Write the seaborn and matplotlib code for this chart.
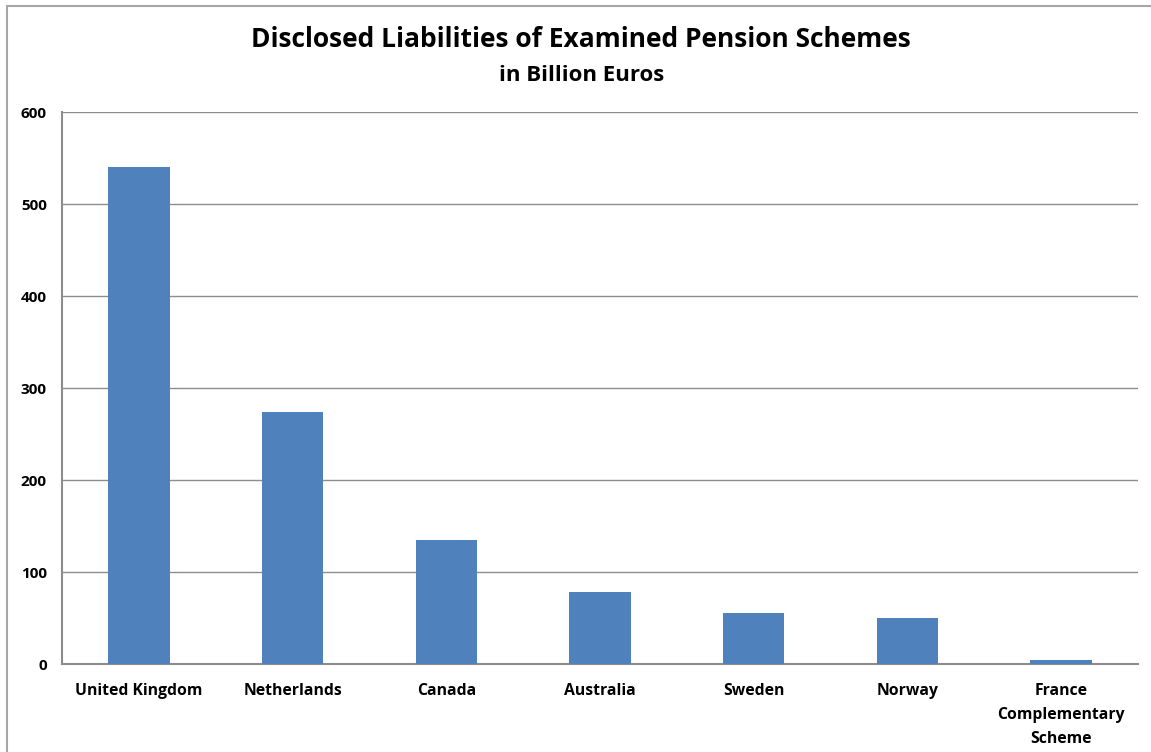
import matplotlib
matplotlib.use('Agg')
import matplotlib.pyplot as plt
import pandas as pd
import seaborn as sns
from matplotlib.patches import Rectangle

# Data
countries = ['United Kingdom', 'Netherlands', 'Canada', 'Australia',
             'Sweden', 'Norway', 'France\nComplementary\nScheme']
liabilities = [540, 274, 135, 78, 55, 50, 4]

df = pd.DataFrame({'Country': countries, 'Liabilities': liabilities})

sns.set_style('white')
plt.rcParams['font.family'] = ['Open Sans', 'DejaVu Sans']
plt.rcParams['text.color'] = 'black'
plt.rcParams['xtick.color'] = 'black'
plt.rcParams['ytick.color'] = 'black'

fig = plt.figure(figsize=(11.51, 7.52), dpi=100)
ax = fig.add_axes([0.0539, 0.117, 0.9348, 0.734])

sns.barplot(data=df, x='Country', y='Liabilities', color='#4F81BD',
            saturation=1, width=0.4, ax=ax, zorder=3, linewidth=0)

ax.set_ylim(0, 600)
ax.set_yticks(range(0, 601, 100))
ax.set_xlim(-0.5, len(countries) - 0.5)
ax.yaxis.grid(True, color='#8c8c8c', linewidth=1, zorder=0)
ax.set_xlabel('')
ax.set_ylabel('')

for side in ['top', 'right']:
    ax.spines[side].set_visible(False)
for side in ['left', 'bottom']:
    ax.spines[side].set_color('#8c8c8c')
    ax.spines[side].set_linewidth(1.5)

# category separator ticks on x axis
ax.set_xticks([i + 0.5 for i in range(-1, len(countries))], minor=True)
ax.tick_params(axis='x', which='minor', length=5, color='#8c8c8c', width=1)
ax.tick_params(axis='x', which='major', length=0, pad=14, labelcolor='black')
ax.tick_params(axis='y', length=5, color='#8c8c8c', width=1, pad=6,
               labelcolor='black')

for lbl in ax.get_xticklabels():
    lbl.set_fontsize(11.3)
    lbl.set_fontweight('bold')
    lbl.set_linespacing(1.63)
    lbl.set_verticalalignment('top')
for lbl in ax.get_yticklabels():
    lbl.set_fontsize(11)
    lbl.set_fontweight('bold')

fig.text(0.505, 0.948, 'Disclosed Liabilities of Examined Pension Schemes',
         ha='center', va='center', fontsize=19, fontweight='bold')
fig.text(0.505, 0.899, 'in Billion Euros', ha='center', va='center',
         fontsize=16, fontweight='bold')

# outer chart border (top and left visible)
fig.patches.append(Rectangle((7 / 1151, -0.1), 1.2, 1 - 6 / 752 + 0.1,
                             transform=fig.transFigure, fill=False,
                             edgecolor='#a6a6a6', linewidth=1.5))

plt.savefig('out.png', dpi=100)
plt.close()
